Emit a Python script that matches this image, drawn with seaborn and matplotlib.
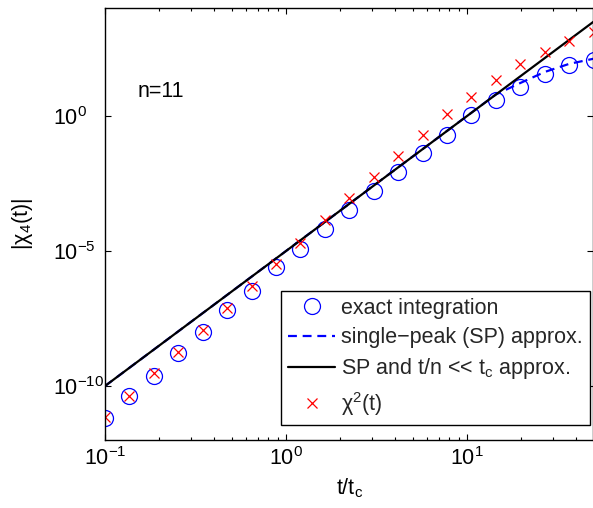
import numpy as np
import pandas as pd
import matplotlib
matplotlib.use("Agg")
import matplotlib.pyplot as plt
import matplotlib.ticker as mticker
from matplotlib.lines import Line2D
import seaborn as sns

# ---- data ----
t_ratio = [0.1, 0.1364, 0.1862, 0.2540, 0.3466, 0.4729, 0.6452, 0.8804, 1.201,
           1.639, 2.236, 3.051, 4.163, 5.680, 7.749, 10.57, 14.43, 19.68,
           26.86, 36.64, 50.0]
exact_vals = [6.5e-12, 4.3e-11, 2.3e-10, 1.7e-9, 1.0e-8, 6.5e-8, 3.4e-7, 2.5e-6,
              1.15e-5, 6.3e-5, 3.3e-4, 1.7e-3, 8.7e-3, 4.2e-2, 0.20, 1.07, 3.9,
              12.3, 34.7, 77.6, 117.0]
chi2_vals = [7.2e-12, 4.4e-11, 2.95e-10, 1.86e-9, 1.17e-8, 7.6e-8, 5.0e-7, 3.2e-6,
             2.0e-5, 1.4e-4, 9.3e-4, 5.6e-3, 3.4e-2, 0.20, 1.15, 5.0, 22.4,
             81.0, 240.0, 575.0, 1260.0]
sp_t = [0.1, 14.43, 19.68, 26.86, 36.64, 50.0]
sp_vals = [1.0e-10, 6.25, 16.6, 42.7, 85.0, 132.0]
lim_t = [0.1, 50.0]
lim_vals = [1.0e-10, 3.1e3]

labels = ["exact integration", "single\u2212peak (SP) approx.",
          r"SP and t/n << $t_c$ approx.", r"$\chi^2$(t)"]

sns.set_theme(style="white")
plt.rcParams["font.family"] = ["Liberation Sans", "DejaVu Sans"]
plt.rcParams["mathtext.fontset"] = "custom"
plt.rcParams["mathtext.rm"] = "Liberation Sans"
plt.rcParams["mathtext.it"] = "Liberation Sans:italic"
plt.rcParams["mathtext.bf"] = "Liberation Sans:bold"
plt.rcParams["mathtext.default"] = "regular"

FS = 15.5
fig = plt.figure(figsize=(5.93, 5.08), dpi=100)
ax = fig.add_axes([105 / 593, 68 / 508, 488.5 / 593, 432 / 508])
ax.set_xscale("log")
ax.set_yscale("log")

df_exact = pd.DataFrame({"t": t_ratio, "v": exact_vals})
df_chi2 = pd.DataFrame({"t": t_ratio, "v": chi2_vals})
df_sp = pd.DataFrame({"t": sp_t, "v": sp_vals})
df_lim = pd.DataFrame({"t": lim_t, "v": lim_vals})

sns.lineplot(data=df_exact, x="t", y="v", ax=ax, linestyle="", marker="o",
             markersize=11.5, markerfacecolor="none", markeredgecolor="blue",
             markeredgewidth=0.9, color="blue", sort=False, estimator=None)
sns.lineplot(data=df_sp, x="t", y="v", ax=ax, color="blue", linewidth=1.6,
             dashes=False, sort=False, estimator=None)
ax.lines[-1].set_dashes([4, 2.6])
sns.lineplot(data=df_lim, x="t", y="v", ax=ax, color="black", linewidth=1.6,
             sort=False, estimator=None)
sns.lineplot(data=df_chi2, x="t", y="v", ax=ax, linestyle="", marker="x",
             markersize=7.5, markeredgecolor="red", markeredgewidth=0.9,
             color="red", sort=False, estimator=None)

ax.set_xlim(0.1, 50)
ax.set_ylim(1e-12, 1e4)
ax.yaxis.set_major_locator(mticker.FixedLocator([1e-10, 1e-5, 1e0]))
ax.yaxis.set_minor_locator(mticker.NullLocator())
ax.xaxis.set_major_locator(mticker.LogLocator(base=10, numticks=10))
ax.xaxis.set_minor_locator(mticker.LogLocator(base=10, subs=np.arange(2, 10), numticks=20))

for s in ax.spines.values():
    s.set_visible(True)
    s.set_color("black")
    s.set_linewidth(1.0)
ax.tick_params(which="both", direction="in", top=True, right=True,
               bottom=True, left=True, colors="black", labelsize=FS, width=0.8)
ax.tick_params(which="major", length=4)
ax.tick_params(which="minor", length=2.4)
ax.tick_params(axis="x", which="major", pad=5)
ax.tick_params(axis="y", which="major", pad=37.5)
plt.setp(ax.get_yticklabels(), ha="left")

ax.set_xlabel(r"t/$t_c$", fontsize=FS, color="black")
ax.set_ylabel(r"|$\chi_4$(t)|", fontsize=FS, color="black")
ax.xaxis.set_label_coords(0.5, -0.085)
ax.yaxis.set_label_coords(-0.143, 0.5)

ax.text(0.0676, 0.794, "n=11", transform=ax.transAxes, fontsize=FS,
        ha="left", va="baseline", color="black")

handles = [
    Line2D([], [], linestyle="", marker="o", markersize=11.5, markerfacecolor="none",
           markeredgecolor="blue", markeredgewidth=0.9),
    Line2D([], [], color="blue", linewidth=1.6, dashes=[4, 2.6]),
    Line2D([], [], color="black", linewidth=1.6),
    Line2D([], [], linestyle="", marker="x", markersize=7.5, markeredgecolor="red",
           markeredgewidth=0.9),
]
leg = ax.legend(handles, labels, loc="lower right", bbox_to_anchor=(0.992, 0.035),
                borderaxespad=0, fontsize=FS, frameon=True, fancybox=False,
                framealpha=1, edgecolor="black", handlelength=2.2,
                handletextpad=0.25, labelspacing=0.39, borderpad=0.33)
leg.get_frame().set_linewidth(1.0)

fig.savefig("out.png", dpi=100)
